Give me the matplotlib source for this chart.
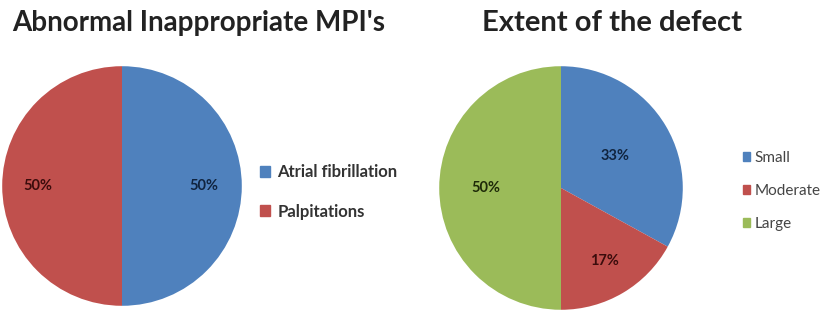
import matplotlib
matplotlib.use("Agg")
import matplotlib.pyplot as plt
from matplotlib.patches import Patch

plt.rcParams['font.family'] = ['Lato', 'DejaVu Sans']

# left chart
mpi_labels = ["Atrial fibrillation", "Palpitations"]
mpi_values = [50, 50]

# right chart
extent_labels = ["Small", "Moderate", "Large"]
extent_values = [33, 17, 50]

BLUE, RED, GREEN = "#4F81BD", "#C0504D", "#9BBB59"
W, H = 830, 318


def px_axes(fig, cx, cy, r):
    # axes box in pixel terms (origin top-left)
    return fig.add_axes([(cx - r) / W, (H - cy - r) / H, 2 * r / W, 2 * r / H])


def draw_pie(ax, values, colors, label_colors, dist):
    wedges, texts, autotexts = ax.pie(
        values, colors=colors, startangle=90, counterclock=False,
        autopct="%d%%", pctdistance=1.0, radius=1.0,
        wedgeprops=dict(linewidth=0))
    for t, c, d in zip(autotexts, label_colors, dist):
        x, y = t.get_position()
        t.set_position((x * d, y * d))
        t.set_color(c)
        t.set_fontsize(10.5)
        t.set_fontweight("bold")
    ax.set_xlim(-1.01, 1.01)
    ax.set_ylim(-1.01, 1.01)
    ax.set_aspect("equal")
    ax.axis("off")
    return wedges


fig = plt.figure(figsize=(W / 100, H / 100), dpi=100)

ax1 = px_axes(fig, 122, 186, 121)
draw_pie(ax1, mpi_values, [BLUE, RED], ["#10243f", "#3b0c0c"], [0.68, 0.70])
fig.text(12 / W, 1 - 31 / H, "Abnormal Inappropriate MPI's", fontsize=20,
         fontweight="bold", color="#222222", ha="left", va="baseline")
fig.legend([Patch(color=BLUE), Patch(color=RED)], mpi_labels,
           loc="center left", bbox_to_anchor=(245 / W, 1 - 192 / H),
           frameon=False, handlelength=0.6, handleheight=0.6,
           handletextpad=0.45, labelspacing=1.4, prop=dict(weight="bold", size=12),
           labelcolor="#333333")

ax2 = px_axes(fig, 561, 188, 123)
draw_pie(ax2, extent_values, [BLUE, RED, GREEN],
         ["#10243f", "#3b0c0c", "#1e2a08"], [0.52, 0.70, 0.62])
fig.text(482 / W, 1 - 31 / H, "Extent of the defect", fontsize=21,
         fontweight="bold", color="#222222", ha="left", va="baseline")
fig.legend([Patch(color=BLUE), Patch(color=RED), Patch(color=GREEN)], extent_labels,
           loc="center left", bbox_to_anchor=(729 / W, 1 - 191 / H),
           frameon=False, handlelength=0.5, handleheight=0.5,
           handletextpad=0.25, labelspacing=1.25, prop=dict(size=11),
           labelcolor="#444444")

fig.savefig("out.png", dpi=100)
